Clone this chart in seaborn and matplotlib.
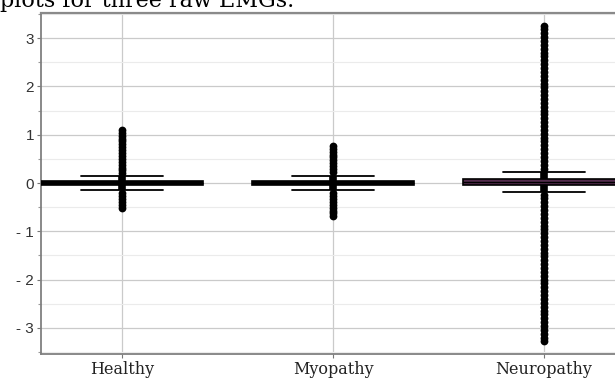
import numpy as np
import pandas as pd
import seaborn as sns
import matplotlib
matplotlib.use("Agg")
import matplotlib.pyplot as plt
from matplotlib.ticker import MultipleLocator

# Groups shown on the x axis.
groups = ["Healthy", "Myopathy", "Neuropathy"]

# Five values per group that give whisker low, Q1, median, Q3, whisker high.
healthy_box = [-0.145, -0.05, 0.0, 0.05, 0.145]
myopathy_box = [-0.14, -0.045, 0.0, 0.045, 0.14]
neuropathy_box = [-0.19, -0.04, 0.02, 0.08, 0.23]

# Outliers.
healthy_fliers = [1.09, 1.04, 0.98, 0.92, 0.86, 0.8, 0.74, 0.68, 0.62, 0.56,
                  0.5, 0.44, 0.38, 0.32, 0.26, 0.21,
                  -0.21, -0.27, -0.33, -0.39, -0.45, -0.51]
myopathy_fliers = [0.77, 0.71, 0.65, 0.59, 0.53, 0.47, 0.41, 0.35, 0.29,
                   0.23, -0.21, -0.27, -0.33, -0.39, -0.45, -0.51, -0.57,
                   -0.63, -0.69]
neuropathy_fliers = [3.26, 3.18, 3.1, 3.02, 2.94, 2.86, 2.78, 2.7, 2.62,
                     2.54, 2.46, 2.38, 2.3, 2.22, 2.14, 2.06, 1.98, 1.9,
                     1.82, 1.74, 1.66, 1.58, 1.5, 1.42, 1.34, 1.26, 1.18,
                     1.1, 1.02, 0.94, 0.86, 0.78, 0.7, 0.62, 0.54, 0.46,
                     0.38, 0.3,
                     -0.24, -0.32, -0.4, -0.48, -0.56, -0.64, -0.72, -0.8,
                     -0.88, -0.96, -1.04, -1.12, -1.2, -1.28, -1.36, -1.44,
                     -1.52, -1.6, -1.68, -1.76, -1.84, -1.92, -2.0, -2.08,
                     -2.16, -2.24, -2.32, -2.4, -2.48, -2.56, -2.64, -2.72,
                     -2.8, -2.88, -2.96, -3.04, -3.12, -3.2, -3.28]

ytick_values = [-3, -2, -1, 0, 1, 2, 3]
ytick_labels = ["- 3", "- 2", "- 1", "0", "1", "2", "3"]
title_text = "plots for three raw EMGs."

box_colors = {"Healthy": "black", "Myopathy": "black", "Neuropathy": "#5a2550"}

box_df = pd.DataFrame({
    "group": ["Healthy"] * len(healthy_box) + ["Myopathy"] * len(myopathy_box)
    + ["Neuropathy"] * len(neuropathy_box),
    "value": healthy_box + myopathy_box + neuropathy_box,
})
flier_df = pd.DataFrame({
    "group": ["Healthy"] * len(healthy_fliers)
    + ["Myopathy"] * len(myopathy_fliers)
    + ["Neuropathy"] * len(neuropathy_fliers),
    "value": healthy_fliers + myopathy_fliers + neuropathy_fliers,
})

sns.set_style("whitegrid")
fig = plt.figure(figsize=(6.15, 3.80), dpi=100)
ax = fig.add_axes([41 / 615, 26 / 380, (630 - 41) / 615, 341 / 380])

sns.boxplot(data=box_df, x="group", y="value", hue="group", order=groups,
            palette=box_colors, legend=False, width=0.77, whis=1.5,
            showfliers=False, linecolor="black", linewidth=1.2,
            whiskerprops={"linewidth": 5.5, "solid_capstyle": "butt"},
            capprops={"linewidth": 1.3}, medianprops={"linewidth": 1.0},
            ax=ax, zorder=3)

sns.stripplot(data=flier_df, x="group", y="value", order=groups,
              jitter=False, color="black", size=5.6, linewidth=0,
              ax=ax, zorder=4)

ax.set_xlim(-0.384, (630 - 122) / 211)
ax.set_ylim(-3.54, 3.52)
ax.set_yticks(ytick_values)
ax.set_yticklabels(ytick_labels, fontfamily="Liberation Sans", fontsize=11,
                   color="#333333")
ax.yaxis.set_minor_locator(MultipleLocator(0.5))
ax.set_xticks(range(len(groups)))
ax.set_xticklabels(groups, fontfamily="DejaVu Serif", fontsize=11.5,
                   color="#222222")
ax.set(xlabel=None, ylabel=None)

ax.grid(True, which="major", axis="both", color="#cacaca", linewidth=0.9)
ax.grid(True, which="minor", axis="y", color="#ebebeb", linewidth=0.8)
ax.set_axisbelow(True)

ax.tick_params(axis="both", which="major", direction="out", length=3,
               width=0.8, color="#777777", pad=2, left=True, bottom=True)
ax.tick_params(axis="y", which="minor", direction="out", length=2,
               width=0.8, color="#999999", left=True)

for side in ["left", "bottom"]:
    ax.spines[side].set_color("#808080")
    ax.spines[side].set_linewidth(1.3)
ax.spines["top"].set_color("#8a8a8a")
ax.spines["top"].set_linewidth(1.6)
ax.spines["right"].set_visible(False)

# The caption above the chart is cut off at the top edge in the reference.
fig.text(0.0, 1 - 7 / 380, title_text, fontfamily="DejaVu Serif",
         fontsize=16, va="baseline", ha="left", color="black")

fig.savefig("out.png", dpi=100)
